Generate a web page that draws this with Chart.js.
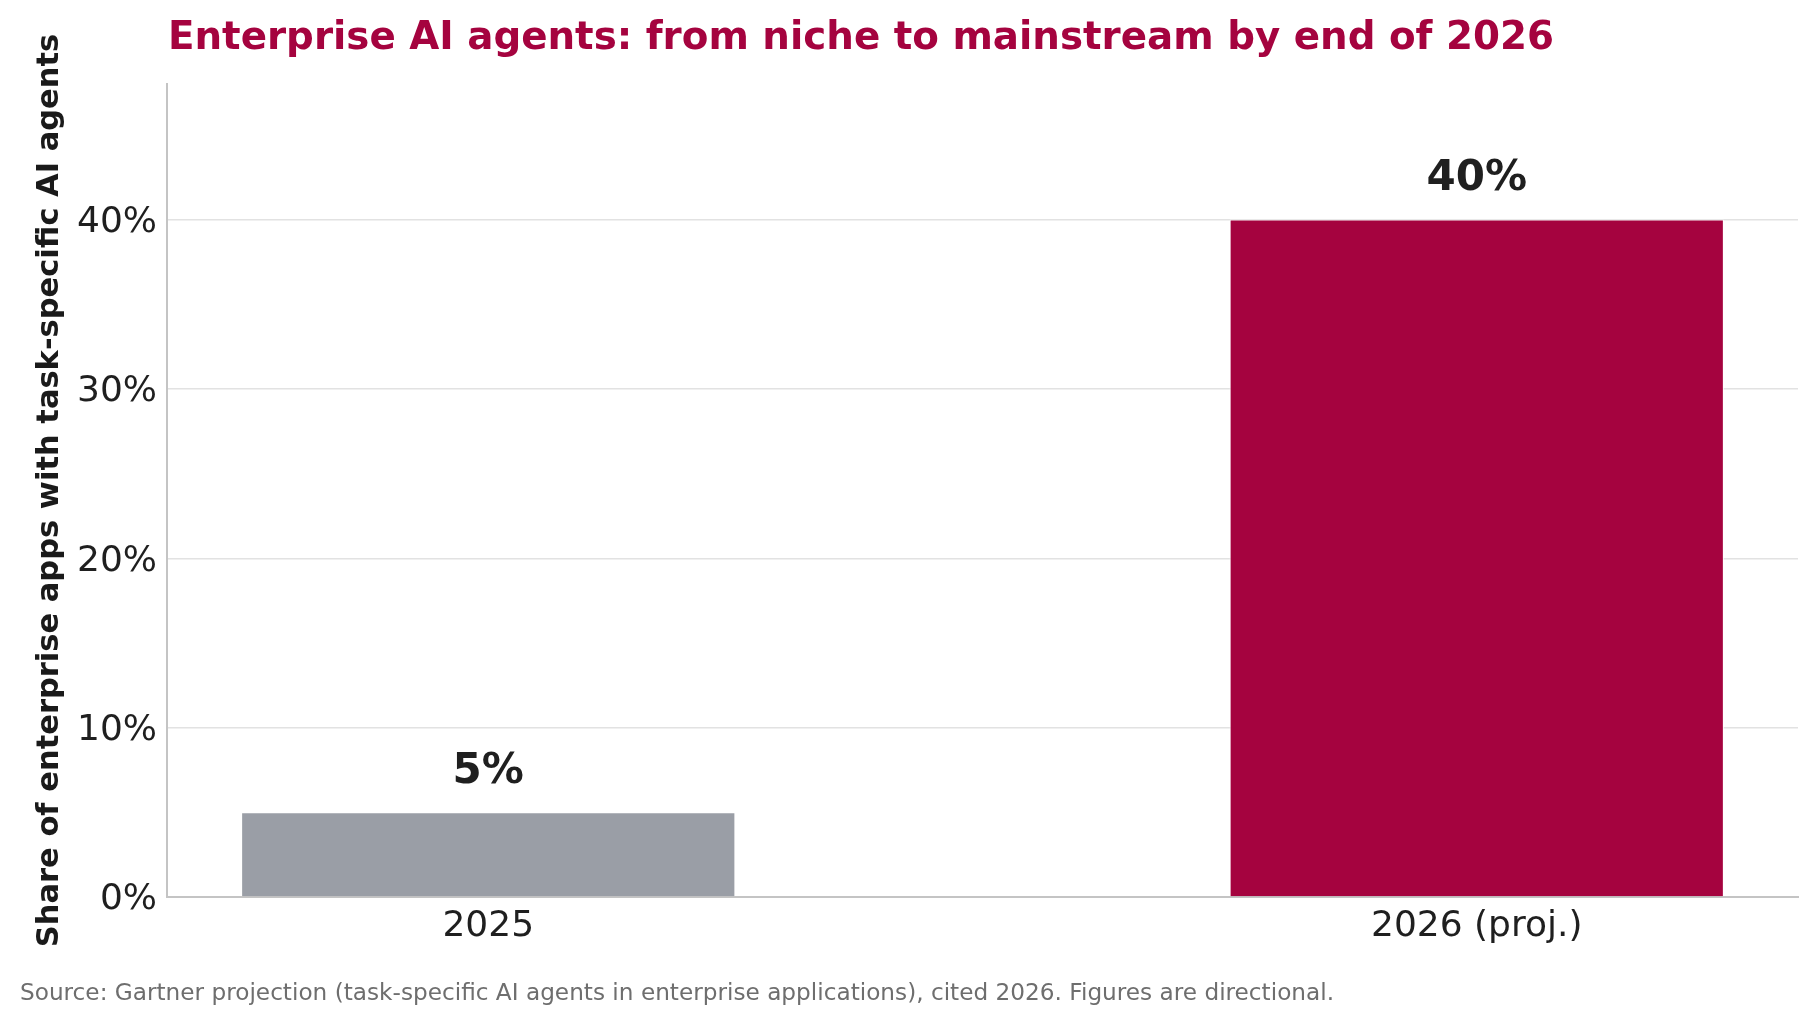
<!DOCTYPE html>
<html>
<head>
<meta charset="utf-8">
<title>Enterprise AI agents</title>
<script src="https://cdn.jsdelivr.net/npm/chart.js@4.4.1/dist/chart.umd.min.js"></script>
<style>
  html, body { margin: 0; padding: 0; background: #fff; }
  #wrap { width: 1818px; height: 1025px; position: relative; }
</style>
</head>
<body>
<div id="wrap"><canvas id="agentchart" width="1818" height="1025"></canvas></div>
<script>
const categories = ['2025', '2026 (proj.)'];
const shares = [5, 40];
const barColors = ['#9a9ea6', '#a5033f'];
const yTicks = [0, 10, 20, 30, 40];

const titleText = 'Enterprise AI agents: from niche to mainstream by end of 2026';
const sourceText = 'Source: Gartner projection (task-specific AI agents in enterprise applications), cited 2026. Figures are directional.';
const yTitle = 'Share of enterprise apps with task-specific AI agents';

const FONT = "'DejaVu Sans', sans-serif";

// title, source note and value labels on top of the bars
const textPlugin = {
    id: 'textPlugin',
    afterDraw(chart) {
        const ctx = chart.ctx;
        const xs = chart.scales.x;
        const ys = chart.scales.y;
        ctx.save();

        ctx.fillStyle = '#a5033f';
        ctx.font = 'bold 38.8px ' + FONT;
        ctx.textAlign = 'left';
        ctx.textBaseline = 'middle';
        ctx.fillText(titleText, 168, 39);

        ctx.fillStyle = '#6e6e6e';
        ctx.font = '23.2px ' + FONT;
        ctx.fillText(sourceText, 20, 994);

        ctx.fillStyle = '#1f1f1f';
        ctx.font = 'bold 42px ' + FONT;
        ctx.textAlign = 'center';
        shares.forEach((v, i) => {
            ctx.fillText(v + '%', xs.getPixelForValue(i), ys.getPixelForValue(v) - 40);
        });
        ctx.restore();
    }
};

function renderChart() {
    const ctx = document.getElementById('agentchart').getContext('2d');
    new Chart(ctx, {
        type: 'bar',
        data: {
            datasets: [{
                data: shares.map((v, i) => ({ x: i, y: v })),
                backgroundColor: barColors,
                borderColor: '#ffffff',
                borderWidth: 1,
                barPercentage: 0.5,
                categoryPercentage: 1
            }]
        },
        options: {
            responsive: false,
            animation: false,
            layout: { padding: { left: 0, right: 20, top: 84, bottom: 68 } },
            plugins: {
                legend: { display: false },
                tooltip: { enabled: false }
            },
            scales: {
                x: {
                    type: 'linear',
                    min: -0.325,
                    max: 1.325,
                    offset: false,
                    afterBuildTicks: scale => {
                        scale.ticks = categories.map((c, i) => ({ value: i }));
                    },
                    afterFit: scale => { scale.height = 60; },
                    ticks: {
                        callback: v => categories[v],
                        font: { family: FONT, size: 36 },
                        color: '#1f1f1f',
                        padding: 8,
                        maxRotation: 0,
                        autoSkip: false
                    },
                    grid: { display: false, drawTicks: false },
                    border: { display: true, color: '#c4c4c4', width: 2 }
                },
                y: {
                    min: 0,
                    max: 48,
                    afterBuildTicks: scale => {
                        scale.ticks = yTicks.map(v => ({ value: v }));
                    },
                    afterFit: scale => { scale.width = 167; },
                    ticks: {
                        callback: v => v + '%',
                        font: { family: FONT, size: 36 },
                        color: '#1f1f1f',
                        padding: 10,
                        labelOffset: 3
                    },
                    grid: { color: '#e2e2e2', lineWidth: 1.5, drawTicks: false },
                    border: { display: true, color: '#c4c4c4', width: 2 },
                    title: {
                        display: true,
                        text: yTitle,
                        font: { family: FONT, size: 30.5, weight: 'bold' },
                        color: '#1a1a1a',
                        padding: { top: 32, bottom: 0 }
                    }
                }
            }
        },
        plugins: [textPlugin]
    });
}
renderChart();
</script>
</body>
</html>
